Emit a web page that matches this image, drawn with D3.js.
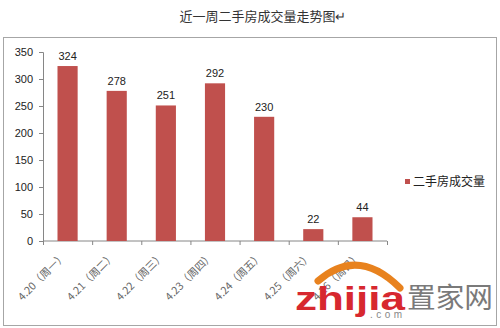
<!DOCTYPE html>
<html><head><meta charset="utf-8">
<script src="https://cdn.jsdelivr.net/npm/d3@7"></script>
<style>body{margin:0;background:#fff}svg{display:block}</style>
</head><body>
<svg id="c" width="500" height="328"></svg>
<script>
const categories = ["4.20（周一）","4.21（周二）","4.22（周三）","4.23（周四）","4.24（周五）","4.25（周六）","4.26（周日）"];
const values = [324, 278, 251, 292, 230, 22, 44];
const yTicks = [0, 50, 100, 150, 200, 250, 300, 350];
const seriesName = "二手房成交量";
const title = "近一周二手房成交量走势图↵";

const svg = d3.select("#c");
const font = "SimSun, 'Noto Sans CJK SC', sans-serif";
svg.append("text").attr("x", 263).attr("y", 21).attr("text-anchor", "middle")
  .attr("font-family", font).attr("font-size", 13).attr("fill", "#333").text(title);
svg.append("rect").attr("x", 3.5).attr("y", 37.5).attr("width", 493).attr("height", 288)
  .attr("fill", "#fff").attr("stroke", "#a6a6a6");

const x = d3.scaleBand().domain(categories).range([43, 387]).paddingInner(0.59).paddingOuter(0.295);
const y = d3.scaleLinear().domain([0, 350]).range([241, 52]);

const ya = svg.append("g").attr("transform", "translate(43,0)")
  .call(d3.axisLeft(y).tickValues(yTicks).tickSize(4).tickPadding(6));
ya.select(".domain").attr("stroke", "#868686");
ya.selectAll(".tick line").attr("stroke", "#868686");
ya.selectAll("text").attr("font-family", "Arial, 'Liberation Sans', sans-serif").attr("font-size", 11).attr("fill", "#222");

const xb = d3.scaleLinear().domain([0, 7]).range([43, 387]);
const xa = svg.append("g").attr("transform", "translate(0,241)")
  .call(d3.axisBottom(xb).ticks(7).tickSize(4).tickFormat(""));
xa.select(".domain").attr("stroke", "#868686").attr("d", "M43,0H387");
xa.selectAll(".tick line").attr("stroke", "#868686");

svg.selectAll("rect.bar").data(values).join("rect").attr("class", "bar")
  .attr("x", (d, i) => x(categories[i])).attr("width", x.bandwidth())
  .attr("y", d => y(d)).attr("height", d => y(0) - y(d)).attr("fill", "#C0504D");

svg.selectAll("text.val").data(values).join("text").attr("class", "val")
  .attr("x", (d, i) => x(categories[i]) + x.bandwidth() / 2).attr("y", d => y(d) - 6)
  .attr("text-anchor", "middle").attr("font-family", "Arial, 'Liberation Sans', sans-serif")
  .attr("font-size", 11).attr("fill", "#222").text(d => d);

svg.selectAll("text.cat").data(categories).join("text").attr("class", "cat")
  .attr("transform", (d) => `translate(${x(d) + x.bandwidth() / 2 - 1},${257}) rotate(-45)`)
  .attr("text-anchor", "end").attr("font-family", font).attr("font-size", 10.5).attr("fill", "#666").text(d => d);

svg.append("rect").attr("x", 405).attr("y", 179).attr("width", 5).attr("height", 5).attr("fill", "#C0504D");
svg.append("text").attr("x", 413).attr("y", 186).attr("font-family", font).attr("font-size", 12).attr("fill", "#222").text(seriesName);

// watermark
const wm = svg.append("g");
wm.append("path").attr("d", "M318,281 Q358,246 400,288").attr("fill", "none").attr("stroke", "#E8821E").attr("stroke-width", 7).attr("stroke-linecap", "round");
wm.append("text").attr("x", 295).attr("y", 310).attr("font-family", "Arial, 'Liberation Sans', sans-serif").attr("font-weight", "bold")
  .attr("font-size", 33).attr("fill", "#D7282F").attr("textLength", 110).attr("lengthAdjust", "spacingAndGlyphs").text("zhijia");
wm.append("text").attr("x", 407).attr("y", 308).attr("font-family", "'Noto Sans CJK SC', sans-serif").attr("font-size", 28).attr("fill", "#7a7a7a")
  .attr("textLength", 86).attr("lengthAdjust", "spacingAndGlyphs").text("置家网");
wm.append("text").attr("x", 370).attr("y", 318).attr("font-family", "Arial, sans-serif").attr("font-size", 10).attr("fill", "#888")
  .attr("textLength", 32).text(".com");
</script>
</body></html>
